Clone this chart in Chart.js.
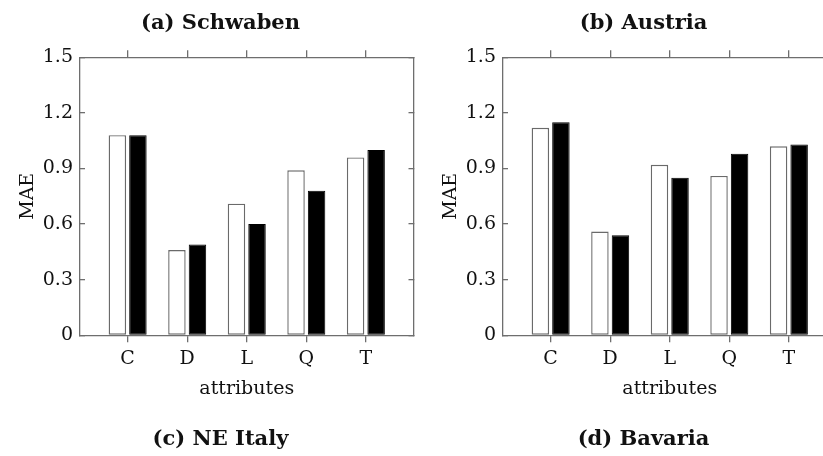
<!DOCTYPE html>
<html>
<head>
<meta charset="utf-8">
<script src="https://cdn.jsdelivr.net/npm/chart.js@4.4.1/dist/chart.umd.min.js"></script>
<style>
  html, body { margin: 0; padding: 0; background: #fff; overflow: hidden; width: 823px; height: 456px; }
  canvas { position: absolute; top: 0; }
  #left { left: 0; }
  #right { left: 423px; }
</style>
</head>
<body>
<canvas id="left" width="441" height="456"></canvas>
<canvas id="right" width="441" height="456"></canvas>
<script>
const attributes = ['C', 'D', 'L', 'Q', 'T'];
const yTicks = [0, 0.3, 0.6, 0.9, 1.2, 1.5];

// left panel
const schwabenWhite = [1.08, 0.46, 0.71, 0.89, 0.96];
const schwabenBlack = [1.08, 0.49, 0.60, 0.78, 1.00];
// right panel
const austriaWhite = [1.12, 0.56, 0.92, 0.86, 1.02];
const austriaBlack = [1.15, 0.54, 0.85, 0.98, 1.03];

Chart.defaults.font.family = '"DejaVu Serif", serif';
Chart.defaults.color = '#111';

const frame = '#6e6e6e';
const setXTicks = s => { s.ticks = attributes.map((a, i) => ({ value: i })); };
const setYTicks = s => { s.ticks = yTicks.map(v => ({ value: v })); };

function makeChart(id, title, sub, white, black) {
  return new Chart(document.getElementById(id), {
    type: 'bar',
    data: {
      datasets: [
        { data: white.map((v, i) => ({ x: i, y: v })), backgroundColor: '#fff',
          borderColor: '#6a6a6a', borderWidth: 1.4, borderSkipped: false },
        { data: black.map((v, i) => ({ x: i, y: v })), backgroundColor: '#000',
          borderColor: '#000', borderWidth: 1, borderSkipped: false }
      ]
    },
    options: {
      responsive: false, animation: false, devicePixelRatio: 1,
      categoryPercentage: 0.69, barPercentage: 0.85,
      layout: { padding: 0 },
      plugins: {
        legend: { display: false }, tooltip: { enabled: false },
        title: { display: true, text: title, font: { size: 21, weight: 'bold' },
                 padding: { top: 11, bottom: 14.1 } },
        subtitle: { display: true, position: 'bottom', text: sub, color: '#111',
                    font: { size: 21, weight: 'bold' }, padding: { top: 10, bottom: 4 } }
      },
      scales: {
        x: {
          type: 'linear', position: 'bottom', min: -0.8, max: 4.8, offset: false,
          afterBuildTicks: setXTicks, afterFit: s => { s.height = 81.5; },
          grid: { offset: false, drawOnChartArea: false, tickLength: 7, color: frame, lineWidth: 1.3 },
          border: { color: frame, width: 1.3 },
          ticks: { padding: 5, font: { size: 19 }, callback: v => attributes[v] },
          title: { display: true, text: 'attributes', font: { size: 19 }, padding: { top: 0, bottom: 16.7 } }
        },
        x2: {
          type: 'linear', position: 'top', min: -0.8, max: 4.8, offset: false,
          afterBuildTicks: setXTicks,
          grid: { offset: false, drawOnChartArea: false, tickLength: 7, color: frame, lineWidth: 1.3 },
          border: { color: frame, width: 1.3 },
          ticks: { display: false }
        },
        y: {
          position: 'left', min: 0, max: 1.5,
          afterBuildTicks: setYTicks, afterFit: s => { s.width = 80; },
          grid: { drawOnChartArea: false, tickLength: -5, color: frame, lineWidth: 1.3 },
          border: { color: frame, width: 1.3 },
          ticks: { padding: 12, font: { size: 19 }, callback: v => v === 0 ? '0' : v.toFixed(1) },
          title: { display: true, text: 'MAE', font: { size: 19 }, padding: { top: 17, bottom: 0 } }
        },
        y2: {
          position: 'right', min: 0, max: 1.5,
          afterBuildTicks: setYTicks, afterFit: s => { s.width = 27.5; },
          grid: { drawOnChartArea: false, tickLength: -5, color: frame, lineWidth: 1.3 },
          border: { color: frame, width: 1.3 },
          ticks: { display: false }
        }
      }
    }
  });
}

makeChart('left', '(a) Schwaben', '(c) NE Italy', schwabenWhite, schwabenBlack);
makeChart('right', '(b) Austria', '(d) Bavaria', austriaWhite, austriaBlack);
</script>
</body>
</html>
